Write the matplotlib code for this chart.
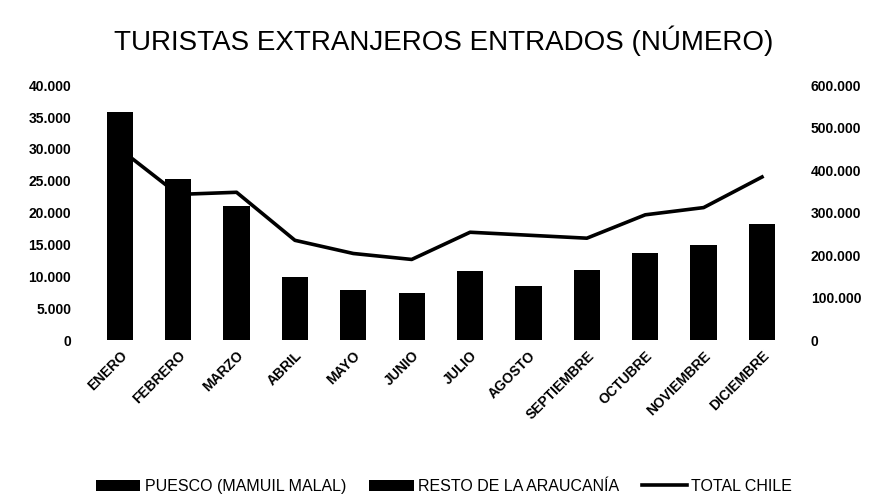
import numpy as np
import matplotlib
matplotlib.use('Agg')
import matplotlib.pyplot as plt
from matplotlib.ticker import FuncFormatter

meses = ['ENERO', 'FEBRERO', 'MARZO', 'ABRIL', 'MAYO', 'JUNIO', 'JULIO',
         'AGOSTO', 'SEPTIEMBRE', 'OCTUBRE', 'NOVIEMBRE', 'DICIEMBRE']
# turistas por paso (eje izquierdo), apilados
puesco = [2500, 1800, 1500, 700, 500, 500, 800, 600, 800, 1000, 1100, 1300]
resto = [33300, 23500, 19600, 9200, 7400, 6950, 10050, 7950, 10200, 12650, 13800, 16850]
# total Chile (eje derecho)
total_chile = [450000, 343000, 348000, 235000, 204000, 190000, 254000,
               247000, 240000, 295000, 312000, 384000]


def miles(v, pos):
    return '{:,.0f}'.format(v).replace(',', '.')


plt.rcParams['font.family'] = ['Liberation Sans', 'DejaVu Sans']

fig = plt.figure(figsize=(8.88, 5.04), dpi=100)
ax = fig.add_axes([0.102, 0.325, 0.789, 0.506])
ax2 = ax.twinx()

x = np.arange(len(meses))
ax.bar(x, puesco, width=0.45, color='black', label='PUESCO (MAMUIL MALAL)')
ax.bar(x, resto, width=0.45, bottom=puesco, color='black', label='RESTO DE LA ARAUCANÍA')
ax2.plot(x, total_chile, color='black', lw=2.6, label='TOTAL CHILE')

ax.set_ylim(0, 40000)
ax.set_yticks(np.arange(0, 40001, 5000))
ax2.set_ylim(0, 600000)
ax2.set_yticks(np.arange(0, 600001, 100000))
ax.yaxis.set_major_formatter(FuncFormatter(miles))
ax2.yaxis.set_major_formatter(FuncFormatter(miles))
ax.set_xlim(-0.5, len(meses) - 0.5)
ax.set_xticks(x)
ax.set_xticklabels(meses, rotation=45, ha='right', rotation_mode='anchor',
                   fontsize=10, fontweight='bold')

for a in (ax, ax2):
    for s in a.spines.values():
        s.set_visible(False)
    a.tick_params(length=0, labelsize=10, pad=14)
ax.tick_params(axis='x', pad=6)
for lab in ax.get_yticklabels() + ax2.get_yticklabels():
    lab.set_fontweight('bold')

fig.text(0.5, 0.92, 'TURISTAS EXTRANJEROS ENTRADOS (NÚMERO)', ha='center',
         va='center', fontsize=20)

h1, l1 = ax.get_legend_handles_labels()
h2, l2 = ax2.get_legend_handles_labels()
fig.legend(h1 + h2, l1 + l2, loc='center', bbox_to_anchor=(0.5, 0.035),
           ncol=3, frameon=False, fontsize=11.5, handlelength=2.8,
           columnspacing=1.4, handletextpad=0.3)

fig.savefig('out.png', dpi=100)
